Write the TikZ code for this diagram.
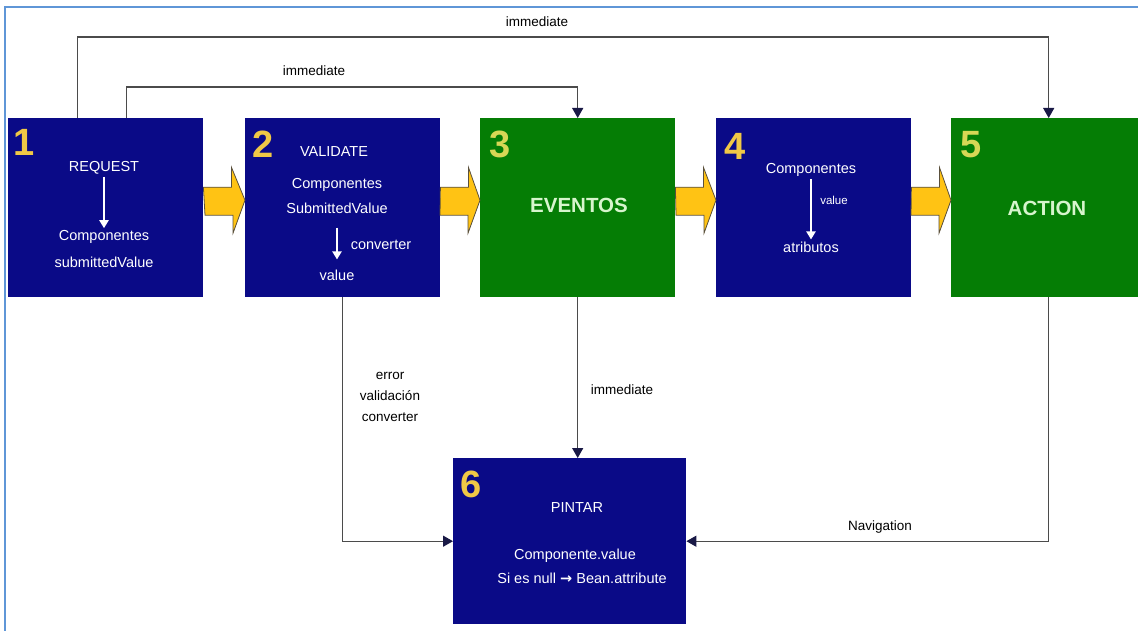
\documentclass[tikz,border=0pt]{standalone}
\usepackage{fontspec}
\setmainfont{Liberation Sans}
\newfontfamily\symfont{DejaVu Sans}
\usetikzlibrary{arrows.meta}
\definecolor{boxblue}{RGB}{10,10,135}
\definecolor{boxgreen}{RGB}{5,125,5}
\definecolor{numyellow}{RGB}{240,200,70}
\definecolor{numlime}{RGB}{215,215,85}
\definecolor{pale}{RGB}{215,245,205}
\definecolor{linegray}{RGB}{75,75,75}
\definecolor{tipnavy}{RGB}{25,25,70}
\definecolor{arrowyellow}{RGB}{255,195,20}
\definecolor{arrowedge}{RGB}{90,80,60}
\definecolor{frameblue}{RGB}{95,150,215}
\begin{document}
\begin{tikzpicture}[x=1pt,y=-1pt,
  bluebox/.style={fill=boxblue,minimum width=195pt,minimum height=179pt,anchor=north west,inner sep=0pt},
  greenbox/.style={bluebox,fill=boxgreen},
  num/.style={anchor=north west,inner sep=0pt,font=\fontsize{38}{38}\selectfont\bfseries,text=numyellow},
  intext/.style={text=white,font=\fontsize{14.5}{16}\selectfont,inner sep=2pt},
  small/.style={text=white,font=\fontsize{11.5}{13}\selectfont,inner sep=1pt},
  big/.style={text=pale,font=\fontsize{20.5}{22}\selectfont\bfseries},
  lbl/.style={text=black,font=\fontsize{13.5}{21}\selectfont,align=center},
  conn/.style={draw=linegray,line width=1.3pt,-{Triangle[length=10pt,width=11pt,color=tipnavy]}},
  wline/.style={draw=white,line width=2pt,-{Triangle[length=8pt,width=9pt]}},
  fat/.style={fill=arrowyellow,draw=arrowedge,line width=0.8pt,line join=miter}]
  \useasboundingbox (0,0) rectangle (1138,631);
  \clip (0,0) rectangle (1138,631);
  \draw[frameblue,line width=2pt] (5,631) -- (5,7) -- (1138,7);

  % the six phases
  \node[bluebox] (b1) at (8,118) {};
  \node[bluebox] (b2) at (245,118) {};
  \node[greenbox] (b3) at (480,118) {};
  \node[bluebox] (b4) at (716,118) {};
  \node[greenbox] (b5) at (951,118) {};
  \node[bluebox,minimum width=233pt,minimum height=166pt] (b6) at (453,458) {};

  \node[num] (n1) at (13,129) {1};
  \node[num] (n2) at (252,131) {2};
  \node[num,text=numlime] (n3) at (489,131) {3};
  \node[num] (n4) at (724,133) {4};
  \node[num,text=numlime] (n5) at (960,131) {5};
  \node[num] (n6) at (460,471) {6};

  % box texts
  \node[intext] (req) at (104,168) {REQUEST};
  \node[intext] (c1) at (104,237) {Componentes};
  \node[intext] (s1) at (104,262) {submittedValue};
  \draw[wline] (req) -- (c1);

  \node[intext] (val) at (334,152) {VALIDATE};
  \node[intext] (c2) at (337,185) {Componentes};
  \node[intext] (s2) at (337,208) {SubmittedValue};
  \node[intext] (v2) at (337,275) {value};
  \node[intext] (cv2) at (381,245) {converter};
  \draw[wline,shorten <=12pt,shorten >=8pt] (s2) -- (v2);

  \node[big] (ev) at (579,205) {EVENTOS};

  \node[intext] (c4) at (811,170) {Componentes};
  \node[intext] (at4) at (811,247) {atributos};
  \node[small] (v4) at (834,200) {value};
  \draw[wline] (c4) -- (at4);

  \node[big] (act) at (1047,208) {ACTION};

  \node[intext] (pin) at (577,508) {PINTAR};
  \node[intext] (cv6) at (575,556) {Componente.value};
  \node[intext] (nul) at (582,578) {Si es null {\symfont\bfseries →} Bean.attribute};

  % yellow block arrows
  \foreach \a/\b in {b1/b2,b2/b3,b3/b4,b4/b5}
    \draw[fat] ([yshift=20.5pt]\a.east) -- ++(28,0) -- ++(0,-20) -- ([yshift=7.5pt]\b.west)
      -- ++(-12,33) -- ++(0,-18) -- ++(-28,0) -- cycle;

  % connectors
  \draw[conn] ([xshift=-28.5pt]b1.north) -- ++(0,-81) -| (b5.north);
  \draw[conn] ([xshift=20.5pt]b1.north) -- ++(0,-31) -| (b3.north);
  \draw[conn] (b2.south) |- (b6.west);
  \draw[conn] (b3.south) -- (b3.south |- b6.north);
  \draw[conn] (b5.south) |- (b6.east);

  \node[lbl] (im1) at (537,22) {immediate};
  \node[lbl] (im2) at (314,71) {immediate};
  \node[lbl] (err) at (390,397) {error\\validación\\converter};
  \node[lbl] (im3) at (622,390) {immediate};
  \node[lbl] (nav) at (880,527) {Navigation};
\end{tikzpicture}
\end{document}
